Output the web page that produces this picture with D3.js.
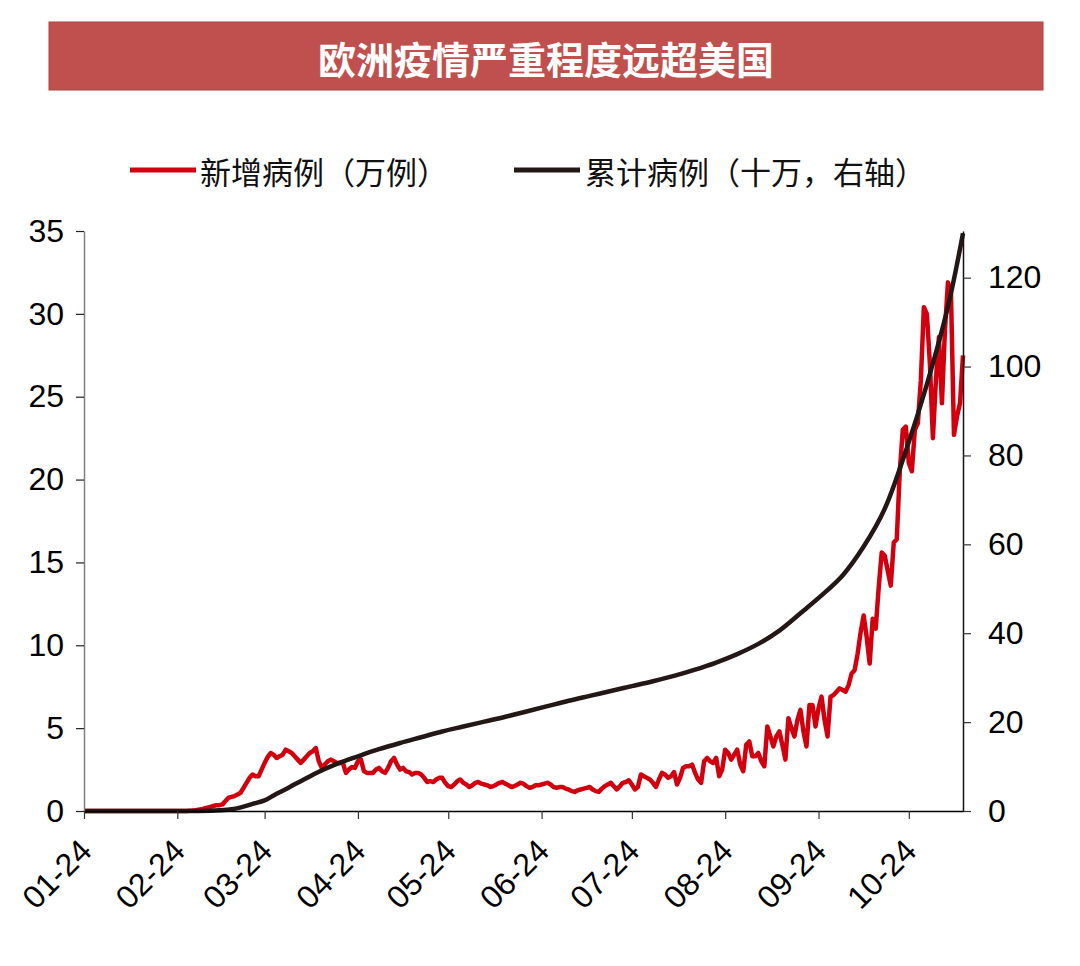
<!DOCTYPE html>
<html>
<head>
<meta charset="utf-8">
<script src="https://cdn.jsdelivr.net/npm/d3@7"></script>
<style>
  html, body { margin: 0; padding: 0; background: #ffffff; }
  svg { display: block; }
</style>
</head>
<body>
<svg id="chart" width="1080" height="966"></svg>
<script>
// ---------------- DATA ----------------
const titleText = "欧洲疫情严重程度远超美国";
const seriesNames = ["新增病例（万例）", "累计病例（十万，右轴）"];
const startDate = "2020-01-24";

// Daily new cases (万例), one value per day starting 2020-01-24
const newCases = [
  0,0,0,0,0,0,0,0,0,0, 0,0,0,0,0,0,0,0,0,0, 0,0,0,0,0,0,0,0,0,0, 0,0,0,0,0,
  0.02,0.03,0.05,0.08,0.1,0.15,0.2,0.25,0.3,0.35,
  0.35,0.4,0.6,0.8,0.85,0.9,1.0,1.1,1.4,1.7,
  2.0,2.2,2.1,2.1,2.5,2.9,3.25,3.5,3.4,3.2,
  3.3,3.4,3.7,3.6,3.5,3.3,3.1,2.9,3.1,3.3,
  3.5,3.6,3.8,3.0,2.6,2.8,3.0,3.1,3.0,2.9,
  2.9,2.9,2.3,2.5,2.65,2.6,3.0,3.1,2.4,2.3,
  2.3,2.3,2.5,2.6,2.4,2.3,2.6,3.0,3.2,2.8,
  2.5,2.6,2.4,2.35,2.2,2.3,2.3,2.2,2.0,1.75,
  1.8,1.75,1.9,2.0,2.0,1.7,1.5,1.45,1.6,1.8,
  1.9,1.7,1.6,1.45,1.55,1.7,1.75,1.65,1.6,1.55,
  1.45,1.5,1.6,1.7,1.75,1.65,1.55,1.45,1.5,1.6,
  1.7,1.65,1.5,1.4,1.45,1.55,1.55,1.6,1.65,1.7,
  1.6,1.45,1.4,1.45,1.45,1.35,1.3,1.2,1.15,1.25,
  1.3,1.35,1.4,1.45,1.3,1.2,1.15,1.35,1.5,1.6,
  1.7,1.5,1.3,1.5,1.7,1.75,1.85,1.6,1.3,1.45,
  2.2,2.1,2.0,1.9,1.7,1.45,1.9,2.3,2.2,2.0,
  2.1,2.35,1.6,2.0,2.6,2.7,2.7,2.8,2.3,1.9,
  1.7,3.0,3.2,3.0,2.9,3.2,2.1,2.5,3.7,3.5,
  3.1,3.4,3.7,2.8,2.4,4.0,4.2,3.3,3.3,3.5,
  3.0,2.7,5.1,4.5,3.9,4.5,4.8,4.0,3.1,5.6,
  5.0,4.5,5.5,6.1,4.8,3.9,6.4,6.4,5.1,6.2,
  6.9,5.5,4.5,6.9,7.0,7.2,7.4,7.3,7.2,7.6,
  8.3,8.5,9.5,10.8,11.8,10.5,8.9,11.6,11.0,13.5,
  15.6,15.4,14.5,13.6,16.2,16.4,20.5,23.0,23.2,21.0,
  20.5,23.0,23.4,26.0,30.4,30.0,27.0,22.5,26.0,28.6,
  24.6,29.0,31.9,31.3,22.7,23.8,24.6,27.5
];

// Cumulative cases (十万), sampled at day offsets from 2020-01-24
const cumDays = [0,35,42,45,49,53,56,60,63,67,70,74,77,84,91,98,105,112,119,126,133,140,147,154,161,168,175,182,189,196,203,210,217,224,231,238,245,252,259,266,273,280,287,292];
const cumValues = [0,0,0.05,0.15,0.4,1.0,1.6,2.4,3.5,4.9,6.0,7.4,8.5,10.6,12.3,13.9,15.3,16.6,17.9,19.0,20.1,21.2,22.4,23.6,24.8,25.9,27.0,28.1,29.2,30.4,31.8,33.4,35.3,37.6,40.6,44.5,48.5,53.0,59.5,68.0,81.0,96,113.5,130];

const xTickLabels = ["01-24","02-24","03-24","04-24","05-24","06-24","07-24","08-24","09-24","10-24"];
const leftTicks = [0,5,10,15,20,25,30,35];
const rightTicks = [0,20,40,60,80,100,120];
const leftMax = 35;
const rightMax = 130.5;

// ---------------- LAYOUT ----------------
const plot = { left: 84, right: 963, top: 231, bottom: 811 };
const red = "#d2000f";
const black = "#231815";
const numFont = "'Liberation Sans', Arial, sans-serif";
const cjkFont = "'Noto Sans CJK SC', sans-serif";

const svg = d3.select("#chart");
const dayMs = 86400000;
const t0 = new Date(startDate + "T00:00:00Z");
const dateAt = d => new Date(t0.getTime() + d * dayMs);

const x = d3.scaleUtc()
  .domain([t0, dateAt(newCases.length - 1)])
  .range([plot.left, plot.right]);
const yL = d3.scaleLinear().domain([0, leftMax]).range([plot.bottom, plot.top]);
const yR = d3.scaleLinear().domain([0, rightMax]).range([plot.bottom, plot.top]);

// Title banner
svg.append("rect")
  .attr("x", 49).attr("y", 22).attr("width", 994).attr("height", 68)
  .attr("fill", "#c0504d").attr("stroke", "#a84440").attr("stroke-width", 1);
svg.append("text")
  .attr("x", 546).attr("y", 57)
  .attr("text-anchor", "middle").attr("dominant-baseline", "central")
  .attr("font-family", cjkFont).attr("font-weight", "bold")
  .attr("font-size", 38).attr("fill", "#ffffff")
  .text(titleText);

// Legend
const legend = svg.append("g");
const legendItems = [
  { name: seriesNames[0], color: red, x1: 130, x2: 196, tx: 200 },
  { name: seriesNames[1], color: black, x1: 514, x2: 580, tx: 585 }
];
legendItems.forEach(it => {
  legend.append("line")
    .attr("x1", it.x1).attr("x2", it.x2).attr("y1", 170).attr("y2", 170)
    .attr("stroke", it.color).attr("stroke-width", 5);
  legend.append("text")
    .attr("x", it.tx).attr("y", 170)
    .attr("dominant-baseline", "central")
    .attr("font-family", cjkFont).attr("font-size", 31).attr("fill", "#111")
    .text(it.name);
});

// Lines
const newLine = d3.line()
  .x((v, i) => x(dateAt(i)))
  .y(v => yL(v));
svg.append("path")
  .datum(newCases)
  .attr("fill", "none").attr("stroke", red).attr("stroke-width", 4.5)
  .attr("stroke-linejoin", "round")
  .attr("d", newLine);

const cumData = cumDays.map((d, i) => ({ date: dateAt(d), v: cumValues[i] }));
const cumLine = d3.line()
  .x(d => x(d.date))
  .y(d => yR(d.v))
  .curve(d3.curveCatmullRom.alpha(0.5));
svg.append("path")
  .datum(cumData)
  .attr("fill", "none").attr("stroke", black).attr("stroke-width", 4.5)
  .attr("stroke-linejoin", "round")
  .attr("d", cumLine);

// Axes
const leftAxis = svg.append("g")
  .attr("transform", `translate(${plot.left},0)`)
  .call(d3.axisLeft(yL).tickValues(leftTicks).tickSize(8).tickSizeOuter(0).tickPadding(12));
leftAxis.select(".domain").attr("stroke", "#808080").attr("stroke-width", 1.5);
leftAxis.selectAll(".tick line").attr("stroke", "#222").attr("stroke-width", 1.2);
leftAxis.selectAll(".tick text")
  .attr("font-family", numFont).attr("font-size", 32).attr("fill", "#000");

const rightAxis = svg.append("g")
  .attr("transform", `translate(${plot.right},0)`)
  .call(d3.axisRight(yR).tickValues(rightTicks).tickSize(8).tickSizeOuter(0).tickPadding(17));
rightAxis.select(".domain").attr("stroke", "#111").attr("stroke-width", 1.5);
rightAxis.selectAll(".tick line").attr("stroke", "#333").attr("stroke-width", 1.2);
rightAxis.selectAll(".tick text")
  .attr("font-family", numFont).attr("font-size", 32).attr("fill", "#000");

const xTickDates = xTickLabels.map(s => {
  const [m, d] = s.split("-").map(Number);
  return new Date(Date.UTC(2020, m - 1, d));
});
const bottomAxis = svg.append("g")
  .attr("transform", `translate(0,${plot.bottom})`)
  .call(d3.axisBottom(x).tickValues(xTickDates).tickSize(8).tickSizeOuter(0)
    .tickFormat((d, i) => xTickLabels[i]));
bottomAxis.select(".domain").attr("stroke", "#000").attr("stroke-width", 1.5);
bottomAxis.selectAll(".tick line").attr("stroke", "#333").attr("stroke-width", 1.2);
bottomAxis.selectAll(".tick text")
  .attr("font-family", numFont).attr("font-size", 32).attr("fill", "#000")
  .attr("text-anchor", "end")
  .attr("dy", null)
  .attr("y", null)
  .attr("transform", "translate(9,42) rotate(-45)");
</script>
</body>
</html>
